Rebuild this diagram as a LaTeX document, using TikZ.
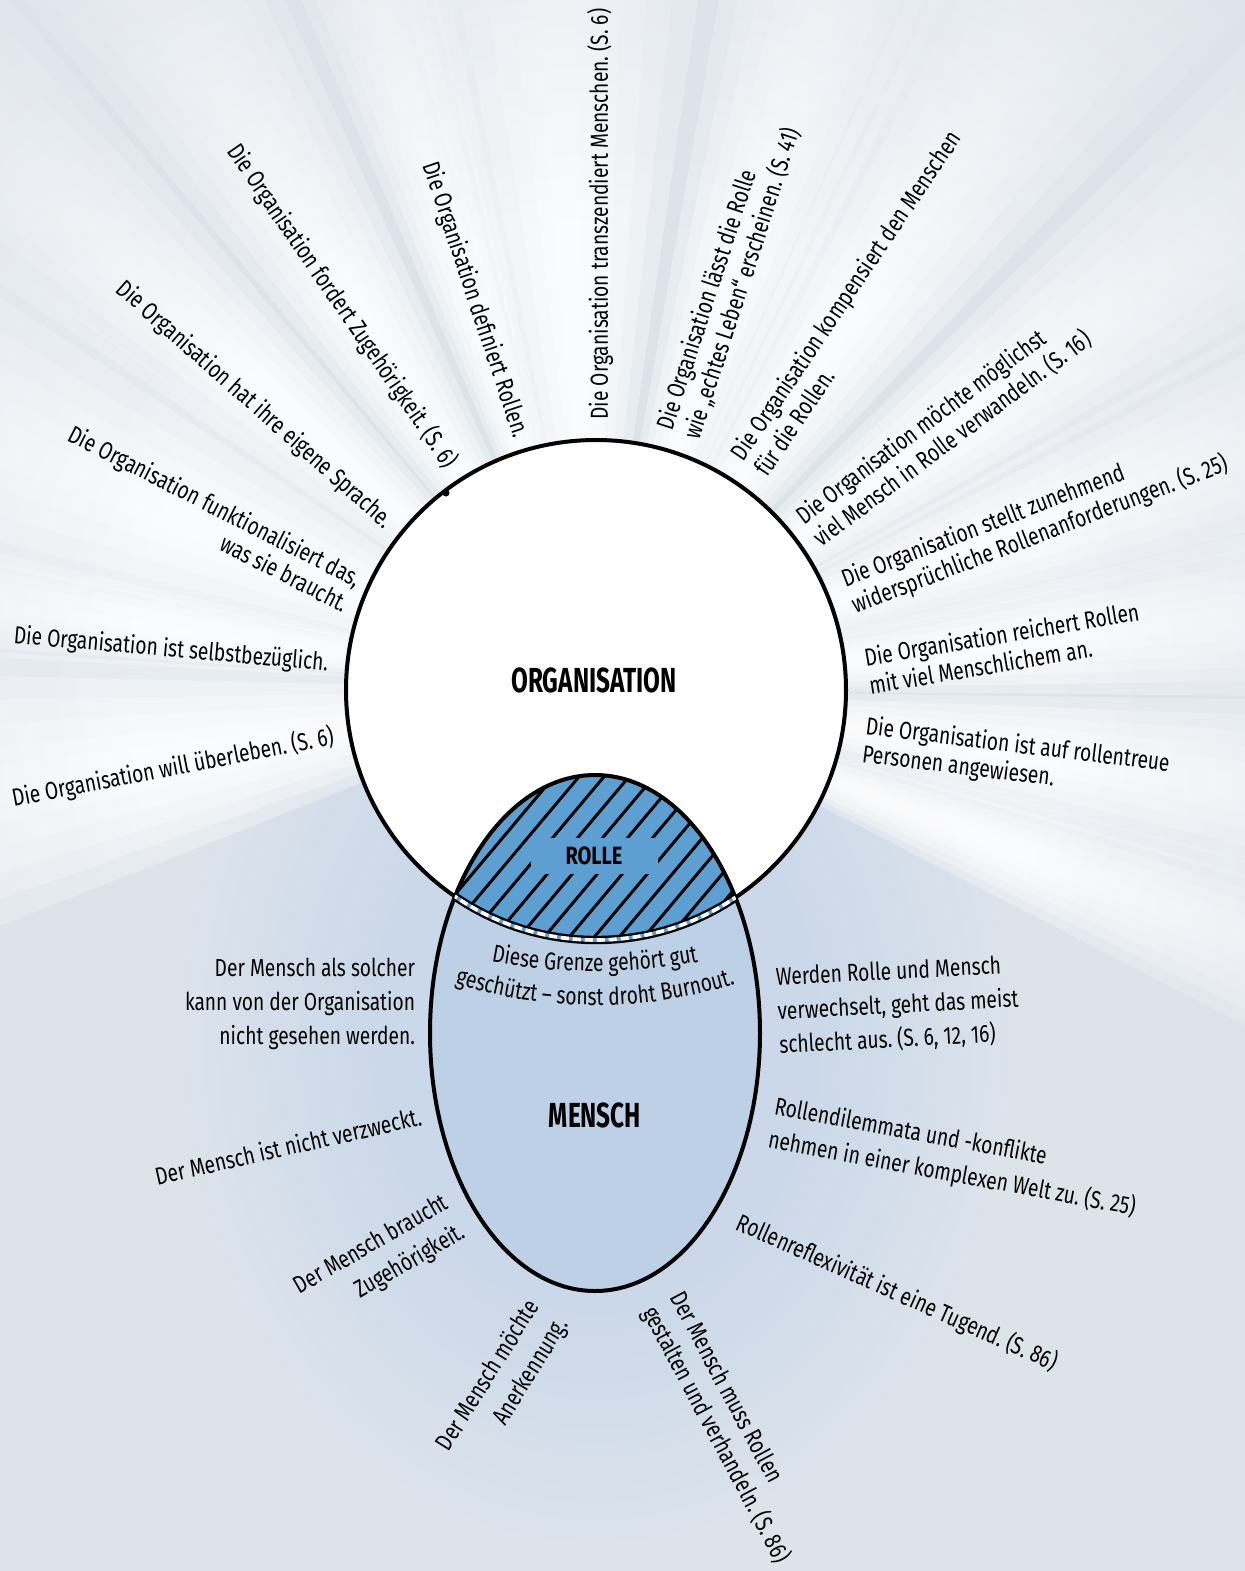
\documentclass[tikz,border=0pt]{standalone}
\usepackage{fontspec}
\setmainfont{Fira Sans}
\newfontfamily\lblfont[FakeStretch=0.78]{Fira Sans}
\newfontfamily\ttlfont[FakeStretch=0.70]{Fira Sans}
\newfontfamily\rolfont[FakeStretch=0.80]{Fira Sans}
\usetikzlibrary{decorations.text}
\frenchspacing

\definecolor{bgcol}{RGB}{220,227,235}
\definecolor{menschcol}{RGB}{190,208,230}
\definecolor{rollecol}{RGB}{94,159,210}
\definecolor{glowcol}{RGB}{203,216,233}

% white rays fading out into the background (25bp = edge of the shaded path)
\pgfdeclareradialshading{rayfade}{\pgfpoint{0bp}{0bp}}{%
  color(0bp)=(white); color(10bp)=(white); color(23bp)=(bgcol); color(50bp)=(bgcol)}
% soft bluish halo around the person
\pgfdeclareradialshading{menschglow}{\pgfpoint{0bp}{0bp}}{%
  color(0bp)=(glowcol); color(13bp)=(glowcol); color(25bp)=(bgcol); color(50bp)=(bgcol)}

\tikzset{
  lbl/.style={font=\lblfont\fontsize{12.3}{14.2}\selectfont, inner sep=0pt, text=black},
  lblm/.style={font=\lblfont\fontsize{12.3}{17}\selectfont, inner sep=0pt, text=black},
  ttl/.style={font=\ttlfont\bfseries\fontsize{17.4}{20}\selectfont, inner sep=0pt},
  outline/.style={line width=2pt, draw=black},
  hatchline/.style={line width=1.5pt, line cap=butt},
  arctext/.style={decorate, decoration={text along path, text align=center, text={#1}}},
}

\begin{document}
\begin{tikzpicture}[x=0.5pt, y=-0.5pt]
\useasboundingbox (0,0) rectangle (1245,1571);
\fill[bgcol] (0,0) rectangle (1245,1571);

\coordinate (C) at (596,690);
\coordinate (E) at (595,1033);

% halo behind the person
\shade[shading=menschglow] (E) ellipse[x radius=420, y radius=520];

% soft-edged rays around the organisation: direction / half width
\foreach \c/\w in {-189/9, -172/3.5, -157.5/9.5, -138/5.5, -122/5.5, -107.5/4,
                   -93.5/8.5, -71.5/6, -56/7, -36.5/6, -20.5/6,
                   -6.5/5, 8.5/5.5, 21/4.5}
  \foreach \f in {1.4, 1.15, 0.9, 0.65, 0.4, 0.2} {
    \begin{scope}
      \clip (C) -- +({\c-\w*\f}:1400) -- +({\c+\w*\f}:1400) -- cycle;
      \shade[shading=rayfade, fill opacity=0.33] (C) circle[radius=1150];
    \end{scope}
  };

% person, organisation and the role between them
\fill[menschcol] (E) ellipse[x radius=165, y radius=258];
\fill[white] (C) circle[radius=250];
\begin{scope}
  \clip (C) circle[radius=250];
  \clip (E) ellipse[x radius=165, y radius=258];
  \fill[rollecol] (400,760) rectangle (800,960);
  \foreach \a in {200,225,...,775}
    \draw[hatchline] (\a,960) -- +(168,-200);
  \node[fill=rollecol, minimum width=63.5pt, minimum height=18pt, inner sep=0pt,
        font=\rolfont\bfseries\fontsize{12.5}{14}\selectfont] (rolle) at (594,856) {ROLLE};
\end{scope}
\draw[outline] (E) ellipse[x radius=165, y radius=258];
\draw[outline] (C) circle[radius=250];
\fill (446,493) circle[radius=3.5];

% guarded border between role and person
\begin{scope}
  \clip (E) ellipse[x radius=165, y radius=258];
  \draw[line width=4.2pt] (C) circle[radius=250];
  \draw[line width=1.8pt, rollecol] (C) circle[radius=250];
  \draw[line width=1.8pt, white, dash pattern=on 4pt off 2pt] (C) circle[radius=250];
\end{scope}

\node[ttl] (org) at (594,680) {ORGANISATION};
\node[ttl] (mensch) at (595,1115) {MENSCH};

\path[arctext={|\lblfont\fontsize{12.3}{14}\selectfont|Diese Grenze gehört gut}]
  (470,957) .. controls (547,976) and (643,976) .. (720,957);
\path[arctext={|\lblfont\fontsize{12.3}{14}\selectfont|geschützt – sonst droht Burnout.}]
  (440,979) .. controls (540,1014) and (650,1014) .. (750,979);

% statements about the organisation
\node[lbl, rotate=90] (o1) at (600,214) {Die Organisation transzendiert Menschen. (S. 6)};
\node[lbl, rotate=-71.5] (o2) at (475,300) {Die Organisation definiert Rollen.};
\node[lbl, rotate=-55.5] (o3) at (342,306) {Die Organisation fordert Zugehörigkeit. (S. 6)};
\node[lbl, rotate=-41.5] (o4) at (254,405) {Die Organisation hat ihre eigene Sprache.};
\node[lbl, rotate=-27, align=right] (o5) at (209,518)
  {Die Organisation funktionalisiert das,\\ was sie braucht.};
\node[lbl, rotate=-5] (o6) at (171,650) {Die Organisation ist selbstbezüglich.};
\node[lbl, rotate=11] (o7) at (173,768) {Die Organisation will überleben. (S. 6)};
\node[lbl, rotate=72, align=left] (o8) at (729,279)
  {Die Organisation lässt die Rolle\\ wie „echtes Leben“ erscheinen. (S. 41)};
\node[lbl, rotate=56, align=left] (o9) at (857,303)
  {Die Organisation kompensiert den Menschen\\ für die Rollen.};
\node[lbl, rotate=37, align=left] (o10) at (944,428)
  {Die Organisation möchte möglichst\\ viel Mensch in Rolle verwandeln. (S. 16)};
\node[lbl, rotate=21, align=left] (o11) at (1035,522)
  {Die Organisation stellt zunehmend\\ widersprüchliche Rollenanforderungen. (S. 25)};
\node[lbl, rotate=9.5, align=left] (o12) at (1004,648)
  {Die Organisation reichert Rollen\\ mit viel Menschlichem an.};
\node[lbl, rotate=-7, align=left] (o13) at (1016,760)
  {Die Organisation ist auf rollentreue\\ Personen angewiesen.};

% statements about the person
\node[lblm, align=right] (m1) at (300,1004)
  {Der Mensch als solcher\\ kann von der Organisation\\ nicht gesehen werden.};
\node[lblm, rotate=12.8] (m2) at (288,1146) {Der Mensch ist nicht verzweckt.};
\node[lblm, rotate=30, align=right] (m3) at (380,1260)
  {Der Mensch braucht\\ Zugehörigkeit.};
\node[lblm, rotate=58, align=right] (m4) at (503,1385)
  {Der Mensch möchte\\ Anerkennung.};
\node[lbl, rotate=-62, align=left, font=\lblfont\fontsize{12.3}{15.5}\selectfont] (m5) at (729,1428)
  {Der Mensch muss Rollen\\ gestalten und verhandeln. (S. 86)};
\node[lblm, rotate=-24] (m6) at (897,1293) {Rollenreflexivität ist eine Tugend. (S. 86)};
\node[lblm, rotate=-10.5, align=left] (m7) at (955,1158)
  {Rollendilemmata und -konflikte\\ nehmen in einer komplexen Welt zu. (S. 25)};
\node[lblm, rotate=3, align=left] (m8) at (898,1006)
  {Werden Rolle und Mensch\\ verwechselt, geht das meist\\ schlecht aus. (S. 6, 12, 16)};
\end{tikzpicture}
\end{document}
